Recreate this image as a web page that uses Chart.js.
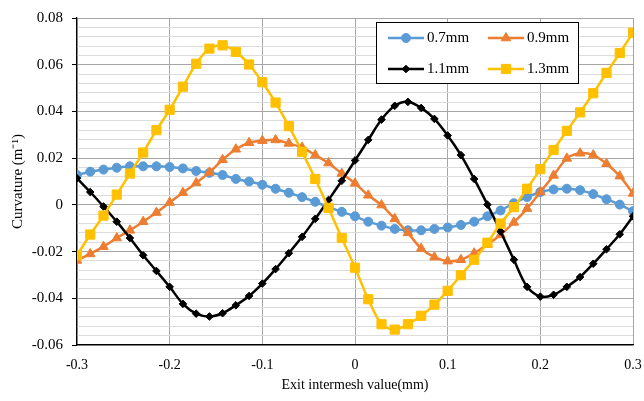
<!DOCTYPE html>
<html>
<head>
<meta charset="utf-8">
<script src="https://cdn.jsdelivr.net/npm/chart.js@4.4.0/dist/chart.umd.min.js"></script>
<style>
  html, body { margin: 0; padding: 0; background: #fff; }
</style>
</head>
<body>
<canvas id="chart" width="644" height="401"></canvas>
<script>
// exit intermesh positions (mm)
const xValues = [-0.3, -0.2857, -0.2714, -0.2571, -0.2429, -0.2286, -0.2143, -0.2, -0.1857, -0.1714, -0.1571,
  -0.1429, -0.1286, -0.1143, -0.1, -0.0857, -0.0714, -0.0571, -0.0429, -0.0286, -0.0143, 0,
  0.0143, 0.0286, 0.0429, 0.0571, 0.0714, 0.0857, 0.1, 0.1143, 0.1286, 0.1429,
  0.1571, 0.1714, 0.1857, 0.2, 0.2143, 0.2286, 0.2429, 0.2571, 0.2714, 0.2857, 0.3];

// curvature (1/m) for each thickness
const curv07 = [0.0128, 0.0142, 0.0151, 0.0159, 0.0165, 0.0165, 0.0165, 0.0162, 0.0156, 0.0145, 0.0137,
  0.0128, 0.0111, 0.0100, 0.0086, 0.0069, 0.0052, 0.0033, 0.0013, -0.0010, -0.0030, -0.0049,
  -0.0072, -0.0089, -0.0103, -0.0109, -0.0109, -0.0103, -0.0097, -0.0086, -0.0072, -0.0049,
  -0.0024, 0.0007, 0.0033, 0.0055, 0.0066, 0.0069, 0.0063, 0.0046, 0.0024, 0.0001, -0.0027];
const curv09 = [-0.0238, -0.0210, -0.0179, -0.0142, -0.0109, -0.0072, -0.0033, 0.0010, 0.0052, 0.0094, 0.0139,
  0.0193, 0.0238, 0.0266, 0.0275, 0.0278, 0.0263, 0.0246, 0.0213, 0.0179, 0.0134, 0.0092,
  0.0041, -0.0001, -0.0060, -0.0120, -0.0187, -0.0224, -0.0241, -0.0235, -0.0207, -0.0170,
  -0.0128, -0.0075, -0.0016, 0.0055, 0.0126, 0.0199, 0.0221, 0.0213, 0.0176, 0.0123, 0.0049];
const curv11 = [0.0114, 0.0055, -0.0007, -0.0072, -0.0142, -0.0216, -0.0283, -0.0351, -0.0424, -0.0466, -0.0478,
  -0.0464, -0.0430, -0.0390, -0.0337, -0.0275, -0.0207, -0.0137, -0.0060, 0.0021, 0.0103, 0.0190,
  0.0278, 0.0365, 0.0424, 0.0441, 0.0415, 0.0368, 0.0297, 0.0213, 0.0111, 0.0001,
  -0.0114, -0.0235, -0.0351, -0.0393, -0.0385, -0.0351, -0.0309, -0.0252, -0.0190, -0.0126, -0.0049];
const curv13 = [-0.0216, -0.0127, -0.0046, 0.0044, 0.0134, 0.0224, 0.0320, 0.0407, 0.0506, 0.0604, 0.0669,
  0.0683, 0.0655, 0.0601, 0.0525, 0.0438, 0.0337, 0.0227, 0.0111, -0.0013, -0.0142, -0.0269,
  -0.0404, -0.0511, -0.0534, -0.0511, -0.0475, -0.0427, -0.0368, -0.0301, -0.0235, -0.0162,
  -0.0080, -0.0010, 0.0069, 0.0153, 0.0235, 0.0317, 0.0396, 0.0478, 0.0565, 0.0650, 0.0737];

const xTickValues = [-0.3, -0.2, -0.1, 0, 0.1, 0.2, 0.3];
const yTickValues = [-0.06, -0.04, -0.02, 0, 0.02, 0.04, 0.06, 0.08];

const serif = "'Liberation Serif', 'Times New Roman', serif";

// minor horizontal grid every 0.004
const yGrid = [];
for (let k = -60; k <= 80; k += 4) yGrid.push(k / 1000);
const isMajor = v => yTickValues.includes(Math.round(v * 1000) / 1000);

function series(label, ys, color, style, radius) {
  return {
    label: label,
    data: xValues.map((x, i) => ({ x: x, y: ys[i] })),
    borderColor: color,
    backgroundColor: color,
    borderWidth: 2.5,
    pointStyle: style,
    pointRadius: radius,
    pointHoverRadius: radius,
    pointBorderWidth: 1,
    tension: 0.3
  };
}

// boxed legend with line + marker samples, two columns
const boxLegend = {
  id: 'boxLegend',
  afterDraw(chart) {
    const ctx = chart.ctx;
    ctx.save();
    ctx.fillStyle = '#fff';
    ctx.fillRect(376, 22, 202, 61);
    ctx.strokeStyle = '#000';
    ctx.lineWidth = 1;
    ctx.strokeRect(376.5, 22.5, 202, 61);
    chart.data.datasets.forEach((ds, i) => {
      const x0 = 388 + (i % 2) * 100;
      const y = 38 + Math.floor(i / 2) * 31;
      ctx.strokeStyle = ds.borderColor;
      ctx.lineWidth = 2.5;
      ctx.beginPath();
      ctx.moveTo(x0, y);
      ctx.lineTo(x0 + 36, y);
      ctx.stroke();
      ctx.fillStyle = ds.backgroundColor;
      ctx.lineWidth = 1;
      Chart.helpers.drawPoint(ctx, { pointStyle: ds.pointStyle, radius: ds.pointRadius, rotation: 0, borderWidth: 1 }, x0 + 18, y);
      ctx.fillStyle = '#000';
      ctx.font = '15px ' + serif;
      ctx.textBaseline = 'middle';
      ctx.textAlign = 'left';
      ctx.fillText(ds.label, x0 + 39, y);
    });
    ctx.restore();
  }
};

const ds07 = series('0.7mm', curv07, '#5B9BD5', 'circle', 4.5);
const ds09 = series('0.9mm', curv09, '#ED7D31', 'triangle', 5.5);
const ds11 = series('1.1mm', curv11, '#000000', 'rectRot', 3.8);
const ds13 = series('1.3mm', curv13, '#FFC000', 'rect', 6.5);
ds07.order = 3; ds09.order = 2; ds11.order = 1; ds13.order = 0;

new Chart(document.getElementById('chart'), {
  type: 'line',
  data: { datasets: [ds07, ds09, ds11, ds13] },
  options: {
    responsive: false,
    animation: false,
    layout: { padding: { left: 0, right: 0, top: 15, bottom: 0 } },
    plugins: { legend: { display: false }, tooltip: { enabled: false } },
    scales: {
      x: {
        type: 'linear',
        min: -0.3,
        max: 0.3,
        afterBuildTicks(axis) { axis.ticks = xTickValues.map(v => ({ value: v })); },
        afterFit(axis) {
          axis.height = 56;
          axis.paddingLeft = 0;
          axis.paddingRight = 11;
        },
        ticks: {
          autoSkip: false,
          maxRotation: 0,
          padding: 12,
          color: '#000',
          font: { family: serif, size: 14 },
          callback: v => String(v)
        },
        grid: { color: '#a6a6a6', lineWidth: 1, drawTicks: false },
        border: { color: '#000', width: 1.2 },
        title: {
          display: true,
          text: 'Exit intermesh value(mm)',
          color: '#000',
          font: { family: serif, size: 14 },
          padding: { top: 0, bottom: 7 }
        }
      },
      y: {
        type: 'linear',
        min: -0.06,
        max: 0.08,
        afterBuildTicks(axis) { axis.ticks = yGrid.map(v => ({ value: v })); },
        afterFit(axis) { axis.width = 77; },
        ticks: {
          autoSkip: false,
          padding: 9,
          color: '#000',
          font: { family: serif, size: 15 },
          callback: v => isMajor(v) ? (Math.abs(v) < 1e-9 ? '0' : v.toFixed(2)) : ''
        },
        grid: {
          color: c => isMajor(c.tick.value) ? '#a6a6a6' : '#dcdcdc',
          tickColor: c => isMajor(c.tick.value) ? '#000' : 'rgba(0,0,0,0)',
          tickLength: 5,
          lineWidth: 1
        },
        border: { color: '#000', width: 1.2 },
        title: {
          display: true,
          text: 'Curvature (m\u207B\u00B9)',
          color: '#000',
          font: { family: serif, size: 15 },
          padding: { top: 9, bottom: 0 }
        }
      }
    }
  },
  plugins: [boxLegend]
});
</script>
</body>
</html>
